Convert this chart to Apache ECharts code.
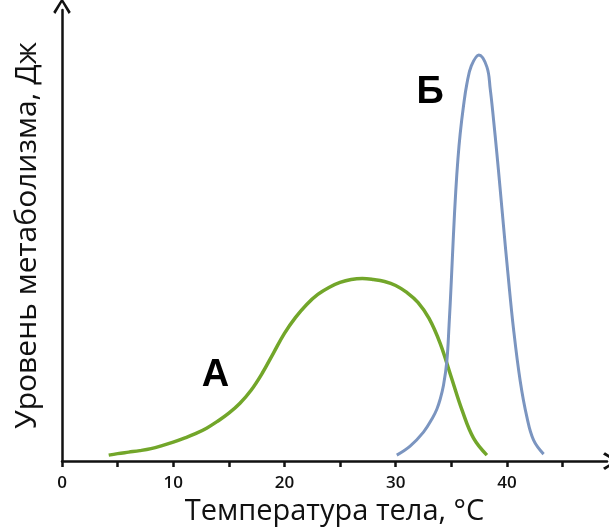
<!DOCTYPE html>
<html>
<head>
<meta charset="utf-8">
<script src="https://cdn.jsdelivr.net/npm/echarts@6/dist/echarts.min.js"></script>
<style>html,body{margin:0;padding:0;background:#fff}#c{width:609px;height:531px}</style>
</head>
<body>
<div id="c"></div>
<script>
// Curve A (green): [temperature, metabolism level]
var curveA = [[4.2,6],[5,7.5],[6,9],[7,10.5],[8,12.5],[9,15.5],[10,19],[11,23],[12,27.5],[13,33],[14,40],[15,48],[16,58],[17,71],[18,88],[19,108],[20,128],[21,144],[22,157],[23,167],[24,174],[25,179],[26,182],[27,183],[28,182],[29,180],[30,176],[31,169],[32,159],[33,143],[34,118],[35,84],[36,50],[37,23],[38.2,6]];
// Curve B (blue)
var curveB = [[30.1,6],[31.3,15],[32.5,29],[33.3,43],[33.7,52],[34.0,62],[34.3,76],[34.6,100],[34.8,136],[35.0,180],[35.2,228],[35.4,270],[35.6,303],[35.8,328],[36.1,356],[36.4,378],[36.8,396],[37.48,407],[38.2,395],[38.5,373],[38.8,342],[39.1,308],[39.4,272],[39.7,235],[40.1,187],[40.6,132],[41.2,80],[41.8,44],[42.4,21],[43.3,7]];
// Curve labels
var labelNames = ['А', 'Б'];
var labelPositions = [[13.8,86],[33.1,369]];
// Axis ticks / labels
var xTickValues = [0,5,10,15,20,25,30,35,40,45];
var xLabelValues = [0,10,20,30,40];
var xName = 'Температура тела, °С';
var yName = 'Уровень метаболизма, Дж';

var chevron = 'path://M5,0 L10,8 L8.8,9.1 L5,2.6 L1.2,9.1 L0,8 Z';
var chart = echarts.init(document.getElementById('c'), null, {renderer:'canvas'});
chart.setOption({
  animation: false,
  grid: {left: 62, right: 2, top: 10, bottom: 69},
  xAxis: {
    type: 'value', min: 0, max: 49,
    name: xName, nameLocation: 'middle', nameGap: 33,
    nameTextStyle: {fontFamily: 'Open Sans', fontSize: 29, color: '#111'},
    axisLine: {show: true, onZero: false, symbol: ['none', chevron], symbolSize: [18, 16], symbolOffset: [0, 4],
      lineStyle: {color: '#111', width: 2.5}},
    axisTick: {show: true, inside: false, length: 6, customValues: xTickValues, lineStyle: {color: '#111', width: 2.5}},
    axisLabel: {show: true, customValues: xLabelValues, margin: 14, fontFamily: 'Open Sans', fontWeight: 600, fontSize: 17, color: '#111'},
    splitLine: {show: false}
  },
  yAxis: {
    type: 'value', min: 0, max: 452,
    name: yName, nameLocation: 'middle', nameGap: 20,
    nameTextStyle: {fontFamily: 'Open Sans', fontSize: 30, color: '#111'},
    axisLine: {show: true, onZero: false, symbol: ['none', chevron], symbolSize: [18, 16], symbolOffset: [0, 4],
      lineStyle: {color: '#111', width: 2.5}},
    axisTick: {show: false}, axisLabel: {show: false}, splitLine: {show: false}
  },
  series: [
    {type: 'line', data: curveA, smooth: 0.4, showSymbol: false, lineStyle: {color: '#72a62a', width: 3.5}},
    {type: 'line', data: curveB, smooth: 0.4, showSymbol: false, lineStyle: {color: '#7b95c0', width: 3}},
    {type: 'scatter', symbolSize: 0, itemStyle: {opacity: 1},
      data: labelPositions.map(function(p, i){ return {name: labelNames[i], value: p}; }),
      label: {show: true, position: 'inside', formatter: '{b}', fontFamily: 'Liberation Sans', fontWeight: 'bold', fontSize: 38, color: '#000'}}
  ]
});
</script>
</body>
</html>
